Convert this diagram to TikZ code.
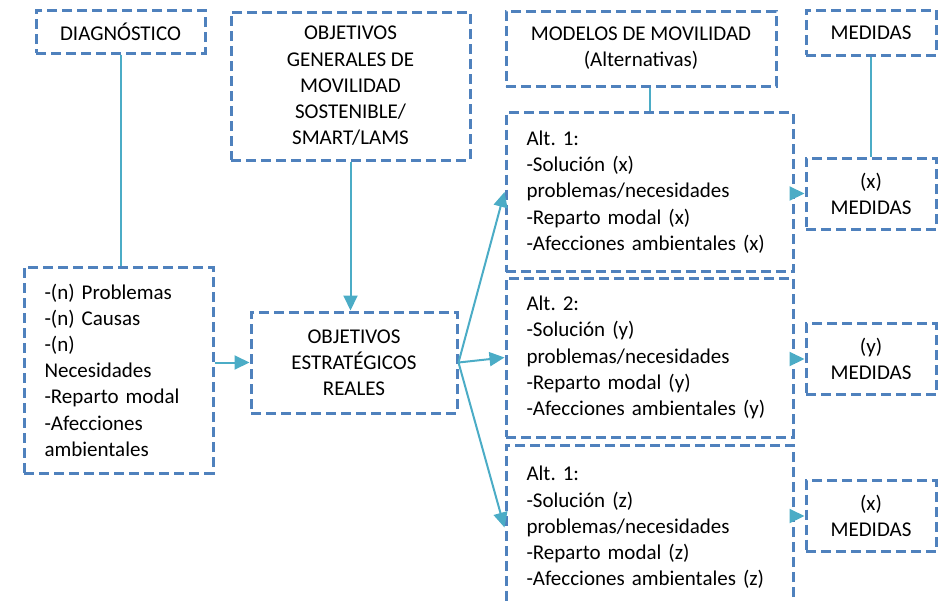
\documentclass[tikz,border=0pt]{standalone}
\usepackage{fontspec}
\setmainfont{Carlito}
\usepackage{tikz}
\usetikzlibrary{arrows.meta, positioning}
\definecolor{boxblue}{RGB}{79, 129, 189}
\definecolor{linkteal}{RGB}{75, 172, 198}
\frenchspacing

\begin{document}
\begin{tikzpicture}[
    x=1pt, y=-1pt,
    box/.style={rectangle, draw=boxblue, line width=3pt, dash pattern=on 10pt off 5pt, font=\fontsize{21}{26.2}\selectfont, align=center, inner sep=0pt},
    altbox/.style={box, align=left, minimum width=287pt, minimum height=159pt, text width=246pt},
    medbox/.style={box, minimum width=130pt, minimum height=71pt},
    link/.style={linkteal, line width=2pt},
    arr/.style={link, -{Triangle[length=15pt, width=14pt]}},
]
\useasboundingbox (0,0) rectangle (944,600);

% Top row of headers
\node[box, minimum width=169pt, minimum height=43pt] (diag) at (120.5,31.5) {DIAGNÓSTICO};
\node[box, minimum width=239pt, minimum height=148pt] (objgen) at (350.5,86) {OBJETIVOS\\GENERALES DE\\MOVILIDAD\\SOSTENIBLE/\\SMART/LAMS};
\node[box, minimum width=270pt, minimum height=75pt] (modelos) at (641,48.5) {MODELOS DE MOVILIDAD\\(Alternativas)};
\node[box, minimum width=130pt, minimum height=45pt] (medidas) at (871,32.5) {MEDIDAS};

% Diagnostic and strategic objectives
\node[box, align=left, minimum width=189pt, minimum height=206pt, text width=148pt] (detalle) at (118.5,370) {-(n) Problemas\\-(n) Causas\\-(n)\\Necesidades\\-Reparto modal\\-Afecciones\\ambientales};
\node[box, minimum width=206pt, minimum height=101pt] (oe) at (354,362.5) {OBJETIVOS\\ESTRATÉGICOS\\REALES};

% Alternatives
\node[altbox] (alt1) at (649.5,192) {Alt. 1:\\-Solución (x)\\problemas/necesidades\\-Reparto modal (x)\\-Afecciones ambientales (x)};
\node[altbox] (alt2) at (649.5,357.5) {Alt. 2:\\-Solución (y)\\problemas/necesidades\\-Reparto modal (y)\\-Afecciones ambientales (y)};
\node[altbox, minimum height=165pt] (alt3) at (649.5,527.5) {Alt. 1:\\-Solución (z)\\problemas/necesidades\\-Reparto modal (z)\\-Afecciones ambientales (z)};

% Measures
\node[medbox] (medx) at (871,193.5) {(x)\\MEDIDAS};
\node[medbox] (medy) at (871,359) {(y)\\MEDIDAS};
\node[medbox] (medz) at (871,516) {(x)\\MEDIDAS};

% Connectors
\draw[link] (diag.south) -- (diag.south |- detalle.north);
\draw[link] (alt1.north) -- (alt1.north |- modelos.south);
\draw[link] (medidas.south) -- (medx.north);
\draw[arr] (detalle.east |- oe.west) -- (oe.west);
\draw[arr] (objgen.south) -- (objgen.south |- oe.north);
\draw[arr] (oe.east) -- (alt1.west);
\draw[arr] (oe.east) -- (alt2.west);
\draw[arr] (oe.east) -- (alt3.west);
\draw[arr] (alt1.east |- medx.west) -- (medx.west);
\draw[arr] (alt2.east |- medy.west) -- (medy.west);
\draw[arr] (alt3.east |- medz.west) -- (medz.west);

\end{tikzpicture}
\end{document}
